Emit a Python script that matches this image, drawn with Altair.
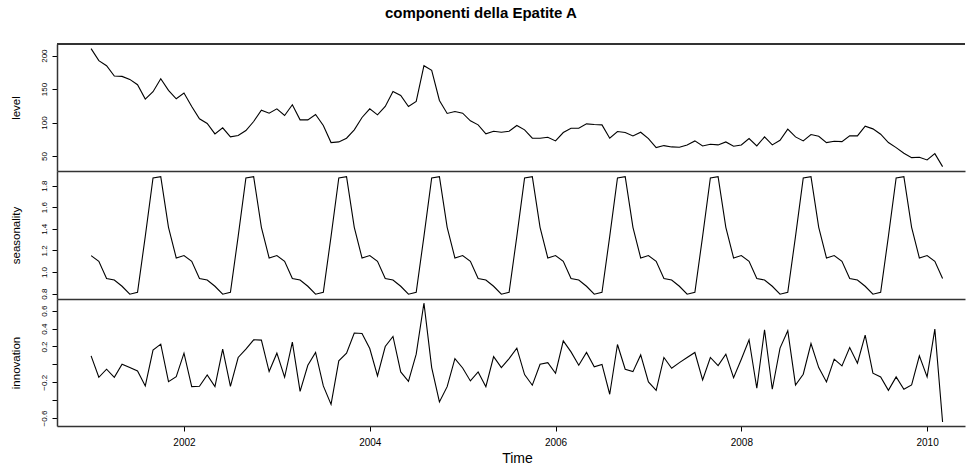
import altair as alt
import pandas as pd

start_year = 2001
level = [210.5, 192.5, 185, 169.5, 169, 164.5, 156.5, 135, 146, 165.5, 148, 135.5,
         144, 124, 105.5, 98.5, 83, 92, 78.5, 80.5, 88, 101.5, 118.5, 114,
         120.5, 110.5, 126.5, 104, 104, 112, 95.5, 70, 71, 76.5, 89, 107.5,
         120.5, 111.5, 124, 146.5, 140.5, 124, 131.5, 185, 178, 133, 113.5, 116.5,
         114, 102.5, 96.5, 83, 87, 85.5, 87, 95.5, 89, 76.5, 76.5, 78,
         72.5, 85, 91.5, 91.5, 98, 97, 96.5, 76.5, 86.5, 85, 80, 85.5,
         76, 62.5, 65.5, 63.5, 63, 66.5, 72.5, 65, 67.5, 66.5, 71, 64.5,
         66.5, 76, 65, 78.5, 66.5, 73.5, 90, 78.5, 72.5, 82, 79.5, 70,
         72, 71.5, 80, 80, 94.5, 90.5, 82.5, 70, 62.5, 54, 47.5, 48,
         44, 53.5, 34]

seasonality = [1.152, 1.099, 0.939, 0.926, 0.868, 0.794, 0.812, 1.33, 1.871, 1.883, 1.414, 1.130,
               1.152, 1.099, 0.939, 0.926, 0.868, 0.794, 0.812, 1.33, 1.871, 1.883, 1.414, 1.130,
               1.152, 1.099, 0.939, 0.926, 0.868, 0.794, 0.812, 1.33, 1.871, 1.883, 1.414, 1.130,
               1.152, 1.099, 0.939, 0.926, 0.868, 0.794, 0.812, 1.33, 1.871, 1.883, 1.414, 1.130,
               1.152, 1.099, 0.939, 0.926, 0.868, 0.794, 0.812, 1.33, 1.871, 1.883, 1.414, 1.130,
               1.152, 1.099, 0.939, 0.926, 0.868, 0.794, 0.812, 1.33, 1.871, 1.883, 1.414, 1.130,
               1.152, 1.099, 0.939, 0.926, 0.868, 0.794, 0.812, 1.33, 1.871, 1.883, 1.414, 1.130,
               1.152, 1.099, 0.939, 0.926, 0.868, 0.794, 0.812, 1.33, 1.871, 1.883, 1.414, 1.130,
               1.152, 1.099, 0.939, 0.926, 0.868, 0.794, 0.812, 1.33, 1.871, 1.883, 1.414, 1.130,
               1.152, 1.099, 0.939]

innovation = [0.095, -0.144, -0.054, -0.144, 0.002, -0.036, -0.073, -0.241, 0.159, 0.226, -0.193, -0.137,
              0.125, -0.249, -0.245, -0.118, -0.249, 0.17, -0.245, 0.077, 0.17, 0.275, 0.271, -0.08,
              0.125, -0.144, 0.249, -0.301, -0.01, 0.133, -0.241, -0.447, 0.039, 0.125, 0.35, 0.346,
              0.177, -0.129, 0.2, 0.312, -0.084, -0.189, 0.114, 0.686, -0.036, -0.42, -0.249, 0.065,
              -0.04, -0.185, -0.084, -0.249, 0.087, -0.036, 0.065, 0.182, -0.114, -0.233, 0.002, 0.02,
              -0.099, 0.263, 0.14, -0.01, 0.133, -0.028, 0.0, -0.334, 0.222, -0.054, -0.081, 0.106,
              -0.196, -0.29, 0.077, -0.043, 0.02, 0.077, 0.133, -0.174, 0.077, -0.013, 0.114, -0.148,
              0.058, 0.275, -0.267, 0.387, -0.278, 0.182, 0.376, -0.23, -0.11, 0.233, -0.036, -0.196,
              0.058, -0.017, 0.189, 0.013, 0.327, -0.099, -0.14, -0.29, -0.14, -0.278, -0.23, 0.095,
              -0.14, 0.394, -0.645]

x_ticks = [2002, 2004, 2006, 2008, 2010]
level_ticks = [50, 100, 150, 200]
season_ticks = [0.8, 1.0, 1.2, 1.4, 1.6, 1.8]
innov_ticks = [-0.6, -0.4, -0.2, 0.0, 0.2, 0.4, 0.6]

time = [start_year + i / 12 for i in range(len(level))]
df = pd.DataFrame({"time": time, "level": level, "seasonality": seasonality, "innovation": innovation})

FONT = "Liberation Sans"
W = 908
XDOM = [2000.633, 2010.408]
FRAME = "#333333"

def panel(field, title, dom, ticks, fmt, h, bottom=False, top=False, label_expr=None):
    if bottom:
        xaxis = alt.Axis(values=x_ticks, format="d", title="Time", grid=False,
                         tickSize=5, labelFontSize=10, labelPadding=6, labelFont=FONT,
                         titleFont=FONT, titleFontSize=14, titleFontWeight="normal",
                         titleX=460, titleY=39, titleBaseline="bottom", titleAlign="center",
                         domainColor=FRAME, domainWidth=1.5, tickColor="black", labelColor="black",
                         titleColor="black", labelFlush=False)
    else:
        xaxis = alt.Axis(title=None, labels=False, ticks=False, grid=False,
                         domainColor=FRAME, domainWidth=1.5)
    yax_kwargs = dict(values=ticks, format=fmt, title=title, grid=False, tickSize=5,
                      labelFontSize=8, labelFont=FONT, labelAngle=270, labelAlign="center",
                      labelBaseline="alphabetic", labelPadding=6, labelOverlap=False,
                      labelColor="black", tickColor="black",
                      titleFont=FONT, titleFontSize=11.5, titleFontWeight="normal",
                      titleAngle=270, titleX=-41, titleY=h / 2, titleAlign="center",
                      titleBaseline="middle", titleColor="black",
                      domainColor=FRAME, domainWidth=1.5)
    if label_expr:
        yax_kwargs["labelExpr"] = label_expr
    line = alt.Chart(df).mark_line(color="black", strokeWidth=1.1).encode(
        x=alt.X("time:Q", scale=alt.Scale(domain=XDOM, nice=False, zero=False), axis=xaxis),
        y=alt.Y(f"{field}:Q", scale=alt.Scale(domain=dom, nice=False, zero=False),
                axis=alt.Axis(**yax_kwargs)),
    )
    layers = [line]
    if top:
        layers.append(alt.Chart(df).mark_rule(color=FRAME, strokeWidth=1.5).encode(
            x=alt.value(0), x2=alt.value(W), y=alt.value(0)))
    return alt.layer(*layers).properties(width=W, height=h)

p1 = panel("level", "level", [27.5, 217.4], level_ticks, "d", 127, top=True)
p2 = panel("seasonality", "seasonality", [0.75, 1.935], season_ticks, ".1f", 128)
p3 = panel("innovation", "innovation", [-0.689, 0.731], innov_ticks, ".1f", 127, bottom=True,
           label_expr="(abs(datum.value) < 1e-9 || abs(datum.value + 0.4) < 1e-9) ? '' : datum.label")

chart = alt.vconcat(p1, p2, p3, spacing=0, bounds="flush").properties(
    title=alt.Title("componenti della Epatite A", font=FONT, fontSize=15, fontWeight="bold",
                    anchor="middle", offset=22, dx=-7, color="black"),
    padding={"left": 10, "top": 6, "right": 0, "bottom": 0},
    background="white",
).configure_view(stroke=None)

chart.save("out.html", embed_options={"renderer": "svg", "actions": False})
